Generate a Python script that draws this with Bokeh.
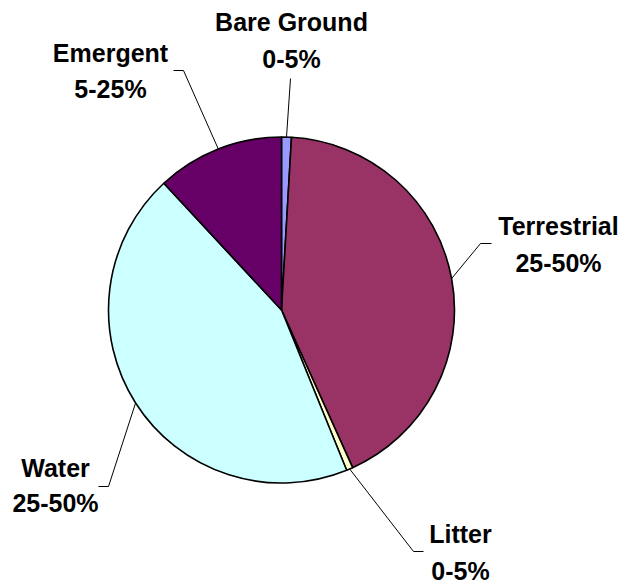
import math
from bokeh.plotting import figure
from bokeh.models import Range1d, ColumnDataSource
from bokeh.core.properties import value
from bokeh.embed import file_html
from bokeh.resources import INLINE

# ---- data (clockwise from 12 o'clock) ----
categories = ["Bare Ground", "Terrestrial", "Litter", "Water", "Emergent"]
shares = [0.92, 42.3, 0.6, 44.2, 11.9]
range_labels = ["0-5%", "25-50%", "0-5%", "25-50%", "5-25%"]

# ---- styles ----
colors = ["#9999FF", "#993366", "#FFFFCC", "#CCFFFF", "#660066"]
FONT = "Liberation Sans"
FS = "25px"

W, H = 626, 584


def Y(y_img):
    return H - y_img


# pie geometry (page pixel coordinates)
cx, cy, r = 281, 309.5, 173

# label layout: (elbow, end) for leader lines, label centre x, two line centres y
layout = {
    "Bare Ground": dict(elbow=(290, 78), end=(290, 78), lx=291, ly=(21.5, 58)),
    "Terrestrial": dict(elbow=(480, 243), end=(491, 243), lx=558, ly=(225, 262)),
    "Litter": dict(elbow=(413, 551), end=(423, 551), lx=460, ly=(533, 570)),
    "Water": dict(elbow=(108, 486), end=(98, 486), lx=55, ly=(467, 502)),
    "Emergent": dict(elbow=(183, 70), end=(173, 70), lx=110, ly=(52, 88.5)),
}

p = figure(width=W, height=H, output_backend="svg", toolbar_location=None,
           x_range=Range1d(0, W), y_range=Range1d(0, H),
           min_border=0)
p.axis.visible = False
p.xgrid.visible = False
p.ygrid.visible = False
p.outline_line_color = None
p.background_fill_color = "white"
p.border_fill_color = "white"

total = sum(shares)
starts, ends, mids = [], [], []
acc = 0.0
for s in shares:
    a0 = acc / total * 2 * math.pi
    acc += s
    a1 = acc / total * 2 * math.pi
    starts.append(math.pi / 2 - a1)
    ends.append(math.pi / 2 - a0)
    mids.append((a0 + a1) / 2)

src = ColumnDataSource(dict(cat=categories, start=starts, end=ends, color=colors))
p.wedge(x=cx, y=Y(cy), radius=r, start_angle="start", end_angle="end",
        fill_color="color", line_color="black", line_width=1.6, source=src)

xs, ys = [], []
tx, ty, tt = [], [], []
for cat, rl, m in zip(categories, range_labels, mids):
    L = layout[cat]
    px = cx + r * math.sin(m)
    py = cy - r * math.cos(m)
    xs.append([px, L["elbow"][0], L["end"][0]])
    ys.append([Y(py), Y(L["elbow"][1]), Y(L["end"][1])])
    tx += [L["lx"], L["lx"]]
    ty += [Y(L["ly"][0]), Y(L["ly"][1])]
    tt += [cat, rl]

p.multi_line(xs=xs, ys=ys, line_color="black", line_width=1)
p.text(x=tx, y=ty, text=tt, text_font=value(FONT), text_font_style="bold",
       text_font_size=FS, text_align="center", text_baseline="middle",
       text_color="black")

open("out.html", "w").write(file_html(p, INLINE))
